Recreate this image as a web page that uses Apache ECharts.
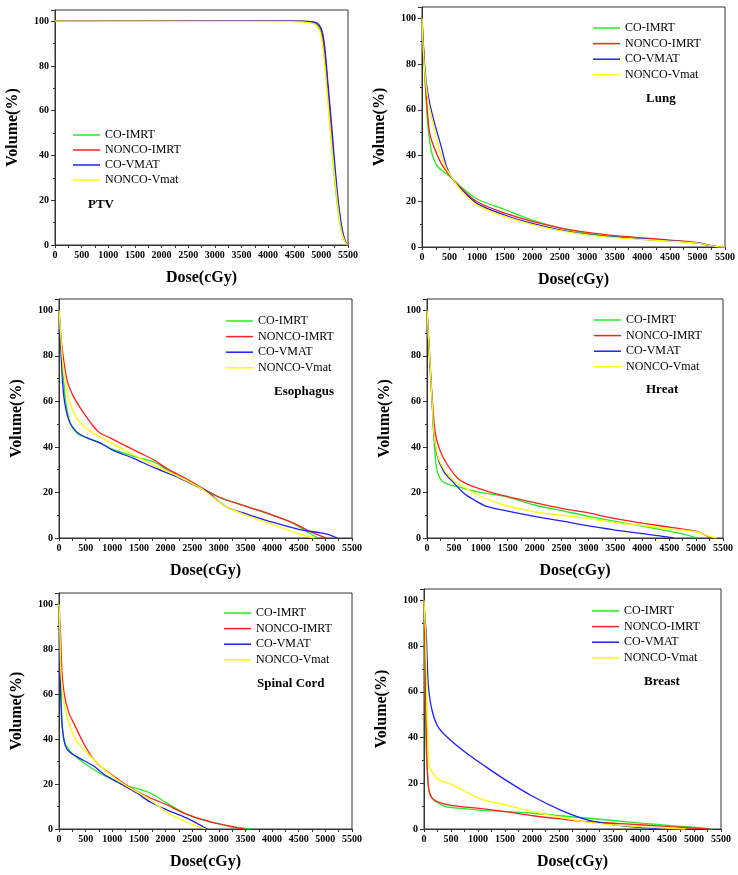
<!DOCTYPE html>
<html>
<head>
<meta charset="utf-8">
<script src="https://cdn.jsdelivr.net/npm/echarts@6/dist/echarts.min.js"></script>
<style>
    html, body { margin: 0; padding: 0; background: #fff; }
    #DvhChart { width: 738px; height: 875px; }
</style>
</head>
<body>
<div id="DvhChart"></div>
<script>
// 图例名称
const seriesNames = ["CO-IMRT", "NONCO-IMRT", "CO-VMAT", "NONCO-Vmat"];
const seriesColors = ["#22ee22", "#ff2020", "#2020ff", "#ffff00"];
const organNames = ["PTV", "Lung", "Esophagus", "Hreat", "Spinal Cord", "Breast"];
const doseTicks = [0, 500, 1000, 1500, 2000, 2500, 3000, 3500, 4000, 4500, 5000, 5500];

// PTV  [dose cGy, volume %]
const ptvCoImrt = [[0, 100], [4500, 100], [4800, 99.6], [4900, 98.8], [4980, 96], [5030, 90], [5080, 78], [5130, 63], [5180, 48], [5230, 34], [5290, 20], [5360, 8], [5430, 2], [5490, 0]];
const ptvNoncoImrt = [[0, 100], [4500, 100], [4820, 99.7], [4920, 99], [5000, 96], [5050, 89], [5100, 77], [5150, 62], [5200, 48], [5250, 34], [5310, 20], [5380, 8], [5450, 1.5], [5500, 0]];
const ptvCoVmat = [[0, 100], [4600, 100], [4850, 99.7], [4950, 98.6], [5020, 95], [5070, 87], [5120, 73], [5170, 60], [5215, 47], [5260, 34], [5320, 19], [5390, 7], [5450, 1.5], [5500, 0]];
const ptvNoncoVmat = [[0, 100], [4400, 99.8], [4750, 99.4], [4880, 98.5], [4970, 95.5], [5030, 88], [5080, 76], [5130, 62], [5180, 48], [5240, 33], [5300, 19], [5370, 7], [5440, 1.5], [5490, 0]];

// Lung
const lungCoImrt = [[0, 100], [40, 80], [80, 62], [110, 52], [170, 42], [230, 37.5], [290, 35], [400, 32.8], [500, 31], [700, 26.5], [1000, 21], [1500, 16.4], [2000, 11.8], [2500, 8.4], [3000, 6], [3500, 4.5], [4000, 3.4], [4500, 2.6], [5000, 1.8], [5200, 0.8], [5350, 0.2], [5500, 0]];
const lungNoncoImrt = [[0, 100], [40, 82], [80, 65], [140, 49.6], [230, 43], [350, 36.5], [500, 31.4], [700, 26], [1000, 19.8], [1500, 14.8], [2000, 11.2], [2500, 8.4], [3000, 6.4], [3500, 5], [4000, 4], [4500, 3], [5000, 1.9], [5200, 0.9], [5350, 0.2], [5500, 0]];
const lungCoVmat = [[0, 100], [40, 82], [80, 71.5], [140, 62.8], [230, 54], [350, 43.8], [440, 35.5], [530, 30.7], [700, 25.5], [1000, 19], [1500, 14], [2000, 10.3], [2500, 7.5], [3000, 5.5], [3500, 4.3], [4000, 3.5], [4500, 2.8], [5000, 1.8], [5200, 0.8], [5350, 0.2], [5500, 0]];
const lungNoncoVmat = [[0, 100], [40, 80], [110, 64], [200, 54], [320, 42], [440, 34.3], [540, 30.5], [700, 25], [1000, 18.3], [1500, 13.3], [2000, 9.8], [2500, 7.2], [3000, 5.3], [3500, 4.1], [4000, 3.3], [4500, 2.6], [5000, 1.7], [5200, 0.8], [5350, 0.2], [5500, 0]];

// Esophagus
const esoCoImrt = [[0, 100], [30, 90], [56, 80], [119, 61], [212, 50.5], [337, 46], [525, 44], [775, 41.7], [1025, 38.8], [1400, 35.9], [1775, 33.5], [2025, 30], [2400, 25], [2650, 22], [3000, 18], [3500, 14], [4000, 10], [4300, 7.5], [4500, 5], [4700, 2.2], [4850, 0]];
const esoNoncoImrt = [[0, 100], [25, 92], [56, 84], [150, 69.5], [275, 62], [462, 55], [650, 49], [775, 46], [962, 44], [1150, 41.7], [1525, 37.3], [1775, 34.4], [2025, 30.5], [2400, 25.9], [3000, 18], [3500, 14], [4000, 10.2], [4300, 7.5], [4500, 5.4], [4700, 3], [4900, 1], [5020, 0]];
const esoCoVmat = [[0, 100], [20, 90], [40, 80], [87, 63], [181, 52], [337, 46.5], [525, 44], [775, 41.7], [1025, 38.4], [1400, 35], [1775, 31], [2150, 27.5], [2525, 23.4], [2775, 20.5], [3000, 16], [3200, 13], [3500, 10.7], [4000, 7], [4500, 3.8], [4900, 2.3], [5080, 1.4], [5220, 0]];
const esoNoncoVmat = [[0, 100], [30, 90], [87, 73], [212, 59], [400, 50.5], [650, 46], [962, 42], [1400, 36.5], [1775, 32], [2150, 28], [2650, 22], [3000, 16], [3200, 13], [3500, 10.1], [4000, 6], [4500, 1.8], [4800, 0]];

// Hreat
const heartCoImrt = [[0, 100], [50, 78], [95, 60], [125, 45], [160, 34], [200, 28.5], [280, 25], [400, 23.6], [560, 22.6], [800, 21], [1000, 20], [1500, 18], [2000, 14.5], [2500, 12], [3000, 9.5], [3500, 7.3], [4000, 5.2], [4500, 3], [4800, 1.5], [5020, 0]];
const heartNoncoImrt = [[0, 100], [50, 80], [95, 62], [155, 46], [250, 38], [370, 32.5], [560, 26.5], [750, 23.7], [1000, 21.5], [1400, 18.7], [2000, 15.5], [2500, 13], [3000, 11], [3500, 8.5], [4000, 6.5], [4500, 4.8], [5000, 3], [5150, 1.5], [5300, 0]];
const heartCoVmat = [[0, 100], [50, 78], [95, 60], [125, 47], [185, 36.6], [310, 29.3], [500, 24.2], [680, 19.8], [870, 16.8], [1110, 13.9], [1500, 11.8], [2000, 9.5], [2500, 7.5], [3000, 5.3], [3500, 3.5], [4000, 1.9], [4300, 1], [4580, 0]];
const heartNoncoVmat = [[0, 100], [50, 79], [95, 60], [135, 44.5], [215, 35], [340, 29.3], [500, 25.2], [700, 22.2], [930, 19], [1360, 15], [2000, 11.5], [2500, 10], [3000, 8.5], [3500, 6.8], [4000, 5.5], [4500, 4], [5000, 2.8], [5200, 1.2], [5380, 0]];

// Spinal Cord
const cordCoImrt = [[0, 100], [20, 80], [40, 60], [60, 46], [100, 39], [180, 35.5], [250, 33.5], [462, 29.5], [775, 24.7], [1087, 21], [1300, 19], [1462, 18], [1712, 16], [2025, 11.5], [2400, 6.5], [2775, 3.5], [3150, 1.5], [3400, 0.6], [3600, 0]];
const cordNoncoImrt = [[0, 100], [30, 86], [56, 70], [100, 60], [180, 52], [300, 46], [420, 40], [500, 36.5], [620, 32], [775, 28], [1087, 22.5], [1400, 17.5], [1700, 14], [2000, 11], [2400, 6.5], [2800, 3.5], [3100, 1.8], [3300, 0.7], [3480, 0]];
const cordCoVmat = [[0, 100], [15, 82], [25, 65], [56, 47], [119, 37], [212, 34], [462, 30.5], [650, 28], [837, 24.5], [1087, 21], [1462, 16], [1712, 12], [2025, 8.5], [2400, 4.8], [2780, 0]];
const cordNoncoVmat = [[0, 100], [20, 85], [37, 69], [87, 57], [150, 50], [275, 41.5], [400, 37], [587, 32.5], [900, 25.5], [1275, 19], [1650, 14], [2025, 7.5], [2400, 3], [2750, 0]];

// Breast
const breastCoImrt = [[0, 100], [10, 80], [19, 63], [43, 34], [70, 22], [93, 16.4], [150, 13.5], [216, 12], [401, 9.8], [710, 9], [1018, 8.3], [1506, 7.6], [2018, 6.9], [2530, 5.8], [3042, 4.7], [3554, 3.6], [4066, 2.5], [4578, 1.5], [5090, 0.6], [5340, 0]];
const breastNoncoImrt = [[0, 100], [10, 88], [19, 77], [43, 41], [80, 19], [154, 13.4], [340, 11.2], [525, 10.2], [1018, 9], [1506, 7.6], [2018, 5.8], [2530, 4.4], [3042, 3.2], [3554, 2.5], [4066, 1.75], [4578, 1], [5090, 0.3], [5300, 0]];
const breastCoVmat = [[0, 100], [20, 92], [43, 85], [80, 63], [154, 51.4], [278, 44], [525, 38.2], [833, 32.4], [1141, 27.3], [1506, 21.5], [2018, 14.2], [2530, 8.3], [3042, 3.9], [3554, 1.75], [4066, 0.6], [4535, 0]];
const breastNoncoVmat = [[0, 100], [15, 92], [31, 85], [62, 48.5], [93, 28], [150, 25], [278, 21.5], [525, 19.3], [1018, 13.4], [1506, 10.5], [2018, 7.6], [2530, 5.1], [3042, 2.9], [3554, 1.75], [4066, 0.9], [4844, 0]];

const panelData = [
    [ptvCoImrt, ptvNoncoImrt, ptvCoVmat, ptvNoncoVmat],
    [lungCoImrt, lungNoncoImrt, lungCoVmat, lungNoncoVmat],
    [esoCoImrt, esoNoncoImrt, esoCoVmat, esoNoncoVmat],
    [heartCoImrt, heartNoncoImrt, heartCoVmat, heartNoncoVmat],
    [cordCoImrt, cordNoncoImrt, cordCoVmat, cordNoncoVmat],
    [breastCoImrt, breastNoncoImrt, breastCoVmat, breastNoncoVmat]
];

// 每个面板的位置 (px)
const panels = [
    { grid: { left: 55, top: 10, width: 293, height: 235 }, legend: { left: 73, top: 129 }, label: { left: 88, top: 198 } },
    { grid: { left: 422, top: 7, width: 304, height: 240 }, legend: { left: 593, top: 22 }, label: { left: 646, top: 92 } },
    { grid: { left: 59, top: 299, width: 293, height: 239 }, legend: { left: 226, top: 315 }, label: { left: 274, top: 385 } },
    { grid: { left: 427, top: 299, width: 296, height: 239 }, legend: { left: 594, top: 314 }, label: { left: 646, top: 383 } },
    { grid: { left: 59, top: 593, width: 293, height: 236 }, legend: { left: 224, top: 607 }, label: { left: 257, top: 677 } },
    { grid: { left: 424, top: 589, width: 297, height: 240 }, legend: { left: 592, top: 605 }, label: { left: 644, top: 675 } }
];

const serif = "Liberation Serif";
const axisColor = "#333";

let grids = [], xAxes = [], yAxes = [], legends = [], titles = [], series = [];
for (let p = 0; p < panels.length; p++) {
    grids.push(Object.assign({
        show: true,
        borderColor: axisColor,
        borderWidth: 1,
        containLabel: false
    }, panels[p].grid));
    xAxes.push({
        type: "value",
        gridIndex: p,
        min: doseTicks[0],
        max: doseTicks[doseTicks.length - 1],
        interval: doseTicks[1] - doseTicks[0],
        name: "Dose(cGy)",
        nameLocation: "middle",
        nameGap: 25,
        nameTextStyle: { fontFamily: serif, fontWeight: "bold", fontSize: 16, color: "#000" },
        axisLine: { lineStyle: { color: axisColor, width: 1 } },
        axisTick: { show: true, length: 3, lineStyle: { color: axisColor } },
        minorTick: { show: true, splitNumber: 2, length: 3, lineStyle: { color: axisColor } },
        axisLabel: {
            fontFamily: serif, fontWeight: "bold", fontSize: 10, color: "#000", margin: 5,
            formatter: function (value) {
                return String(value);
            }
        },
        splitLine: { show: false }
    });
    yAxes.push({
        type: "value",
        gridIndex: p,
        min: 0,
        max: 105,
        interval: 20,
        name: "Volume(%)",
        nameLocation: "middle",
        nameGap: 34,
        nameTextStyle: { fontFamily: serif, fontWeight: "bold", fontSize: 16, color: "#000" },
        axisLine: { lineStyle: { color: axisColor, width: 1 } },
        axisTick: { show: true, length: 4, lineStyle: { color: axisColor } },
        minorTick: { show: true, splitNumber: 2, length: 2, lineStyle: { color: axisColor } },
        axisLabel: {
            fontFamily: serif, fontWeight: "bold", fontSize: 10, color: "#000", margin: 6,
            showMaxLabel: false,
            formatter: function (value) {
                return value % 20 === 0 ? String(value) : "";
            }
        },
        splitLine: { show: false }
    });
    legends.push({
        orient: "vertical",
        left: panels[p].legend.left,
        top: panels[p].legend.top,
        padding: 0,
        icon: "rect",
        itemWidth: 27,
        itemHeight: 1.5,
        itemGap: p === 0 ? 3 : 3.6,
        data: seriesNames,
        selectedMode: false,
        textStyle: { fontFamily: serif, fontSize: 12, color: "#000", lineHeight: 12 }
    });
    titles.push({
        text: organNames[p],
        left: panels[p].label.left,
        top: panels[p].label.top,
        padding: 0,
        textStyle: { fontFamily: serif, fontWeight: "bold", fontSize: 13, color: "#000" }
    });
    for (let s = 0; s < seriesNames.length; s++) {
        series.push({
            name: seriesNames[s],
            type: "line",
            xAxisIndex: p,
            yAxisIndex: p,
            data: panelData[p][s],
            smooth: 0.3,
            symbol: "none",
            lineStyle: { color: seriesColors[s], width: 1.3 },
            itemStyle: { color: seriesColors[s] }
        });
    }
}

const chart = echarts.init(document.getElementById("DvhChart"));
chart.setOption({
    animation: false,
    backgroundColor: "#fff",
    title: titles,
    legend: legends,
    grid: grids,
    xAxis: xAxes,
    yAxis: yAxes,
    series: series
});
</script>
</body>
</html>
